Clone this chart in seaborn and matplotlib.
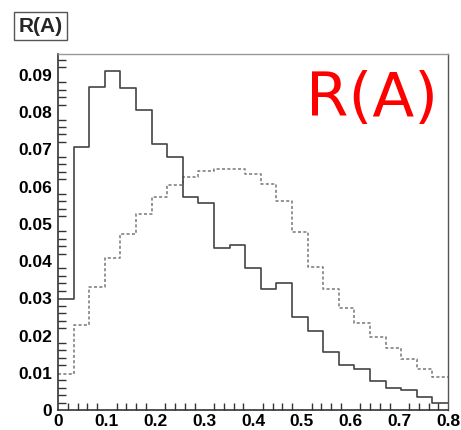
import numpy as np
import pandas as pd
import matplotlib
matplotlib.use("Agg")
import matplotlib.pyplot as plt
from matplotlib.ticker import MultipleLocator, FuncFormatter
import seaborn as sns

n_bins = 25
x_range = (0.0, 0.8)
solid_vals = [0.0297, 0.0707, 0.0868, 0.0910, 0.0865, 0.0806, 0.0715, 0.0679,
              0.0573, 0.0557, 0.0435, 0.0444, 0.0381, 0.0324, 0.0342, 0.0251,
              0.0213, 0.0156, 0.0120, 0.0109, 0.0079, 0.0060, 0.0054, 0.0034, 0.0020]
dotted_vals = [0.0098, 0.0228, 0.0329, 0.0408, 0.0473, 0.0526, 0.0571, 0.0605,
               0.0627, 0.0642, 0.0647, 0.0648, 0.0634, 0.0607, 0.0562, 0.0479,
               0.0385, 0.0324, 0.0274, 0.0233, 0.0197, 0.0166, 0.0136, 0.0110, 0.0088]
x_ticks = [0, 0.1, 0.2, 0.3, 0.4, 0.5, 0.6, 0.7, 0.8]
y_ticks = [0, 0.01, 0.02, 0.03, 0.04, 0.05, 0.06, 0.07, 0.08, 0.09]

sns.set_theme(style="white")
plt.rcParams['font.family'] = ['Liberation Sans', 'DejaVu Sans']

edges = np.linspace(x_range[0], x_range[1], n_bins + 1)
centers = (edges[:-1] + edges[1:]) / 2
df_solid = pd.DataFrame({"x": centers, "w": solid_vals})
df_dot = pd.DataFrame({"x": centers, "w": dotted_vals})

fig = plt.figure(figsize=(4.61, 4.30), dpi=100)
ax = fig.add_axes([58/461, 20/430, 390/461, 356/430])

sns.histplot(data=df_dot, x="x", weights="w", bins=n_bins, binrange=x_range,
             element="step", fill=False, color="#777777", linestyle=(0, (2, 1.5)),
             linewidth=1.1, ax=ax)
sns.histplot(data=df_solid, x="x", weights="w", bins=n_bins, binrange=x_range,
             element="step", fill=False, color="#444444", linewidth=1.2, ax=ax)

ax.set_xlim(0, 0.8)
ax.set_ylim(0, 0.0956)
ax.set_xlabel("")
ax.set_ylabel("")
ax.set_xticks(x_ticks)
ax.set_yticks(y_ticks)
fmt = FuncFormatter(lambda v, p: "0" if abs(v) < 1e-9 else f"{v:g}")
ax.xaxis.set_major_formatter(fmt)
ax.yaxis.set_major_formatter(fmt)
ax.xaxis.set_minor_locator(MultipleLocator(0.02))
ax.yaxis.set_minor_locator(MultipleLocator(0.002))
ax.tick_params(axis="both", which="both", direction="in", colors="#333333",
               labelcolor="black", labelsize=12.5)
ax.tick_params(axis="y", which="major", length=12, width=1, pad=4)
ax.tick_params(axis="y", which="minor", length=6, width=1, left=True)
ax.tick_params(axis="x", which="major", length=10, width=1, pad=3)
ax.tick_params(axis="x", which="minor", length=5, width=1, bottom=True)
for lab in ax.get_xticklabels() + ax.get_yticklabels():
    lab.set_fontweight("bold")

for side in ["left", "bottom"]:
    ax.spines[side].set_color("#333333")
    ax.spines[side].set_linewidth(1.2)
ax.spines["top"].set_color("#999999")
ax.spines["right"].set_color("#555555")
ax.spines["top"].set_linewidth(1.0)
ax.spines["right"].set_linewidth(1.0)

fig.text(40.5/461, 1 - 26/430, "R(A)", ha="center", va="center", fontsize=15,
         fontweight="bold",
         bbox=dict(boxstyle="square,pad=0.2", facecolor="white", edgecolor="#555555", linewidth=1))
ax.text(0.975, 0.955, "R(A)", transform=ax.transAxes, ha="right", va="top",
        fontsize=44, color="#ff0000", family=["DejaVu Sans"])

fig.savefig("out.png", dpi=100)
